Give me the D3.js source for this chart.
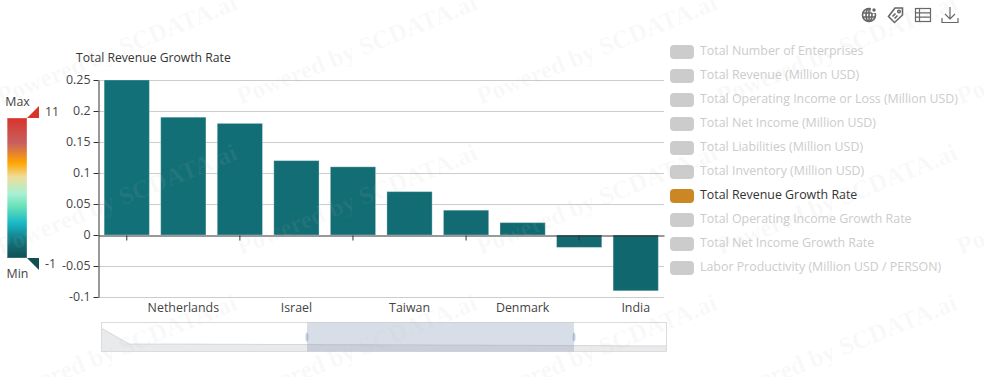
<!DOCTYPE html>
<html>
<head>
<meta charset="utf-8">
<script src="https://cdn.jsdelivr.net/npm/d3@7/dist/d3.min.js"></script>
<style>
html,body{margin:0;padding:0;background:#fff;}
svg{display:block;font-family:"Open Sans","Noto Sans",sans-serif;}
</style>
</head>
<body>
<svg id="c" width="984" height="377"></svg>
<script>
const categoryLabels = ["", "Netherlands", "", "Israel", "", "Taiwan", "", "Denmark", "", "India"];
const growthValues = [0.25, 0.19, 0.18, 0.12, 0.11, 0.07, 0.04, 0.02, -0.02, -0.09];
const yTicks = [0.25, 0.2, 0.15, 0.1, 0.05, 0, -0.05, -0.1];
const legendNames = ["Total Number of Enterprises","Total Revenue (Million USD)","Total Operating Income or Loss (Million USD)","Total Net Income (Million USD)","Total Liabilities (Million USD)","Total Inventory (Million USD)","Total Revenue Growth Rate","Total Operating Income Growth Rate","Total Net Income Growth Rate","Labor Productivity (Million USD / PERSON)"];
const activeLegend = "Total Revenue Growth Rate";
const overviewValues = [11, 3.3, 3.3, 3.3, 3.2, 3.2, 3.1, 3.1, 3.0, 3.0, 2.9, 2.9, 2.8, 2.8, 2.7, 2.7, 2.6, 2.6, 2.5, 2.4, 2.4];
const scaleColorStops = ["#0f4f54","#13777f","#1ab8c8","#66e0b8","#aaf0d5","#eedd99","#ffa500","#c86060","#d7342a"];
const scaleColorPos = [0, 0.125, 0.25, 0.365, 0.46, 0.58, 0.68, 0.82, 1];
const scaleMin = -1, scaleMax = 11;
const watermarkColumns = [1, 241, 481, 721, 961];
const watermarkRows = [105, 255, 405];

const svg = d3.select("#c");
const plot = {l: 98.5, r: 664, t: 80, b: 297};

const x = d3.scaleBand().domain(d3.range(categoryLabels.length)).range([plot.l, plot.r]).paddingInner(0.2).paddingOuter(0.1);
const y = d3.scaleLinear().domain([-0.1, 0.25]).range([plot.b, plot.t]);
const vmT = d3.scaleLinear().domain([scaleMin, scaleMax]).range([0, 1]);
const colorOf = d3.scaleLinear().domain(scaleColorPos).range(scaleColorStops).interpolate(d3.interpolateRgb);
const snap = v => Math.round(v) + 0.5;

// grid
svg.append("g").selectAll("line").data(yTicks.filter(d => d !== 0)).join("line")
  .attr("x1", plot.l).attr("x2", plot.r)
  .attr("y1", d => snap(y(d))).attr("y2", d => snap(y(d)))
  .attr("stroke", "#ccc");

// bars
svg.append("g").selectAll("rect").data(growthValues).join("rect")
  .attr("x", (d, i) => x(i))
  .attr("width", x.bandwidth())
  .attr("y", d => Math.min(y(d), y(0)))
  .attr("height", d => Math.abs(y(d) - y(0)))
  .attr("fill", d => colorOf(vmT(d)))
  .attr("stroke", "rgba(255,255,255,0.3)");

// y axis
const yAxis = svg.append("g").attr("transform", `translate(${plot.l},0)`)
  .call(d3.axisLeft(y).tickValues(yTicks).tickSize(5).tickSizeOuter(0).tickPadding(3).tickFormat(d => String(d)));
yAxis.attr("font-family", null);
yAxis.selectAll("text").attr("font-size", 12.4).attr("fill", "#444").attr("dy", "0.28em");
yAxis.selectAll("line,path").attr("stroke", "#333");
yAxis.selectAll(".tick").attr("transform", d => `translate(0,${snap(y(d))})`);

// x axis: zero line with ticks on alternate bands
const xTickAxis = svg.append("g").attr("transform", `translate(0,${snap(y(0))})`)
  .call(d3.axisBottom(x).tickValues(d3.range(0, categoryLabels.length, 2)).tickSize(5).tickSizeOuter(0).tickFormat(""));
xTickAxis.selectAll("line,path").attr("stroke", "#333");

// x labels
const xLabels = svg.append("g").attr("transform", "translate(0,303)")
  .call(d3.axisBottom(x).tickValues(d3.range(1, categoryLabels.length, 2)).tickSize(0).tickPadding(0).tickFormat(i => categoryLabels[i]));
xLabels.attr("font-family", null);
xLabels.select(".domain").remove();
xLabels.selectAll("text").attr("font-size", 12.4).attr("fill", "#444");

// y title
svg.append("text").attr("x", 76).attr("y", 62).attr("font-size", 12.2).attr("fill", "#333").text(activeLegend);

// legend
const legendY = d3.scalePoint().domain(legendNames).range([52, 268]);
const lg = svg.append("g").selectAll("g").data(legendNames).join("g")
  .attr("transform", d => `translate(670,${legendY(d)})`);
lg.append("rect").attr("y", -7).attr("width", 24).attr("height", 14).attr("rx", 4)
  .attr("fill", d => d === activeLegend ? "#cb8724" : "#ccc");
lg.append("text").attr("x", 30).attr("y", -1).attr("dy", "0.35em").attr("font-size", 12.4)
  .attr("fill", d => d === activeLegend ? "#333" : "#ccc").text(d => d);

// visual map
const defs = svg.append("defs");
const grad = defs.append("linearGradient").attr("id", "vm").attr("x1", 0).attr("x2", 0).attr("y1", 1).attr("y2", 0);
grad.selectAll("stop").data(scaleColorStops).join("stop")
  .attr("offset", (d, i) => scaleColorPos[i]).attr("stop-color", d => d);
const vmY = d3.scaleLinear().domain([scaleMin, scaleMax]).range([258, 118]);
svg.append("rect").attr("x", 7).attr("y", vmY(scaleMax)).attr("width", 20).attr("height", vmY(scaleMin) - vmY(scaleMax)).attr("fill", "url(#vm)");
svg.append("rect").attr("x", 7.5).attr("y", vmY(scaleMax)).attr("width", 19.5).attr("height", vmY(scaleMin) - vmY(scaleMax)).attr("fill", "none").attr("stroke", "rgba(255,255,255,0.35)");
svg.append("path").attr("d", d3.line()([[27, vmY(scaleMax)], [39, vmY(scaleMax) - 12], [39, vmY(scaleMax)]]) + "Z").attr("fill", colorOf(1));
svg.append("path").attr("d", d3.line()([[27, vmY(scaleMin)], [39, vmY(scaleMin)], [39, vmY(scaleMin) + 12]]) + "Z").attr("fill", colorOf(0));
svg.append("text").attr("x", 17.5).attr("y", 106).attr("text-anchor", "middle").attr("font-size", 12.4).attr("fill", "#444").text("Max");
svg.append("text").attr("x", 17.5).attr("y", 278).attr("text-anchor", "middle").attr("font-size", 12.4).attr("fill", "#444").text("Min");
svg.append("text").attr("x", 45).attr("y", 116).attr("font-size", 12.4).attr("fill", "#444").text(String(scaleMax));
svg.append("text").attr("x", 45).attr("y", 268).attr("font-size", 12.4).attr("fill", "#444").text(String(scaleMin));

// data zoom
const dz = {l: 101, r: 667, t: 322, b: 352, s: 307, e: 574};
const ovX = d3.scaleLinear().domain([0, overviewValues.length - 1]).range([dz.l, dz.r]);
const ovY = d3.scaleLinear().domain([0, 11]).range([dz.b - 1, dz.t + 6]);
svg.append("path").datum(overviewValues)
  .attr("d", d3.area().x((d, i) => ovX(i)).y0(dz.b).y1(d => ovY(d)))
  .attr("fill", "#e9eaec");
svg.append("path").datum(overviewValues)
  .attr("d", d3.line().x((d, i) => ovX(i)).y(d => ovY(d)))
  .attr("fill", "none").attr("stroke", "#d6d7da");
svg.append("rect").attr("x", dz.l + 0.5).attr("y", dz.t + 0.5).attr("width", dz.r - dz.l - 1).attr("height", dz.b - dz.t - 1)
  .attr("fill", "none").attr("stroke", "#dcdcdc");
[dz.s, dz.e].forEach(cx => svg.append("ellipse").attr("cx", cx).attr("cy", 337).attr("rx", 1.5).attr("ry", 4.5).attr("fill", "#c3cfe0"));
svg.append("rect").attr("x", dz.s).attr("y", dz.t + 0.5).attr("width", dz.e - dz.s).attr("height", dz.b - dz.t - 1)
  .attr("fill", "rgba(125,145,175,0.3)");

// toolbox icons
const tool = svg.append("g").attr("fill", "none").attr("stroke", "#666").attr("stroke-width", 1.2);
const g1 = tool.append("g").attr("transform", "translate(869,15)").attr("stroke-width", 1.6);
g1.append("circle").attr("r", 6.5);
g1.append("ellipse").attr("rx", 3).attr("ry", 6.5);
g1.append("path").attr("d", "M-6.5 -2H6.5M-6.5 2H6.5M0 -6.5V6.5");
g1.append("circle").attr("cx", 5).attr("cy", -5).attr("r", 2.5).attr("fill", "#666").attr("stroke", "#fff");
const g2 = tool.append("g").attr("transform", "translate(896,15)").attr("stroke-width", 1.6);
g2.append("path").attr("d", "M-1 -7L6.5 -7L6.5 0L-1.5 7.5L-7.5 1.5Z");
g2.append("circle").attr("cx", 3).attr("cy", -3.5).attr("r", 1.3);
g2.append("path").attr("d", "M-3.5 1.5L-0.5 -1.5M-1.5 3.5L1.5 0.5");
const g3 = tool.append("g").attr("transform", "translate(923,15)");
g3.append("rect").attr("x", -7.5).attr("y", -6.5).attr("width", 15).attr("height", 13);
g3.append("path").attr("d", "M-7.5 -2.2H7.5M-7.5 2.2H7.5M-3.5 -6.5V6.5");
const g4 = tool.append("g").attr("transform", "translate(950,15)");
g4.append("path").attr("d", "M0 -8V4M-5 -1L0 4L5 -1M-8 3V7.5H8V3");

// watermark
const wm = svg.append("g").attr("pointer-events", "none");
watermarkRows.forEach(ry => watermarkColumns.forEach(cx => {
  wm.append("text").attr("transform", `translate(${cx},${ry}) rotate(-22)`)
    .attr("font-family", "'Liberation Serif',serif").attr("font-weight", "bold").attr("font-size", 25)
    .attr("fill", "rgba(190,190,190,0.09)").text("Powered by SCDATA.ai");
}));
</script>
</body>
</html>
